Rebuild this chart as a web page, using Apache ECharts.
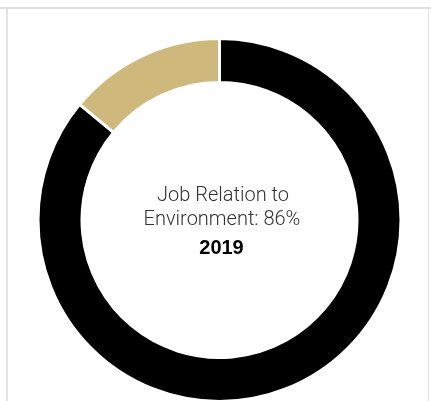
<!DOCTYPE html>
<html>
<head>
<meta charset="utf-8">
<script src="https://cdn.jsdelivr.net/npm/echarts@6/dist/echarts.min.js"></script>
<style>
html,body{margin:0;padding:0;background:#fff;}
#chart{position:absolute;left:0;top:0;width:431px;height:401px;}
.hl{position:absolute;background:#e2e2e2;}
</style>
</head>
<body>
<div id="chart"></div>
<div class="hl" style="left:0;top:7px;width:431px;height:2px;"></div>
<div class="hl" style="left:6px;top:8px;width:2px;height:393px;"></div>
<div class="hl" style="left:428px;top:8px;width:1px;height:393px;"></div>
<script>
const categories = ["Related to Environment", "Not Related"];
const values = [86, 14];
const colors = ["#000000", "#CFB87C"];
const titleLines = ["Job Relation to", "Environment: 86%"];
const yearLabel = "2019";

const chart = echarts.init(document.getElementById('chart'), null, {renderer: 'canvas'});
const lightFont = '300 20px Roboto';
chart.setOption({
  animation: false,
  backgroundColor: '#ffffff',
  graphic: [
    {type: 'text', x: 223, y: 196, style: {text: titleLines[0], font: lightFont, fill: '#333333', align: 'center', verticalAlign: 'middle'}},
    {type: 'text', x: 222, y: 220, style: {text: titleLines[1], font: lightFont, fill: '#333333', align: 'center', verticalAlign: 'middle'}},
    {type: 'text', x: 221.5, y: 248, style: {text: yearLabel, font: 'bold 20px "Liberation Sans", Arial', fill: '#000000', align: 'center', verticalAlign: 'middle'}}
  ],
  series: [{
    type: 'pie',
    center: [219.5, 220],
    radius: [137.5, 181.5],
    startAngle: 90,
    clockwise: true,
    label: {show: false},
    labelLine: {show: false},
    emphasis: {disabled: true},
    itemStyle: {borderColor: '#ffffff', borderWidth: 3},
    data: categories.map((c, i) => ({name: c, value: values[i], itemStyle: {color: colors[i]}}))
  }]
});
</script>
</body>
</html>
